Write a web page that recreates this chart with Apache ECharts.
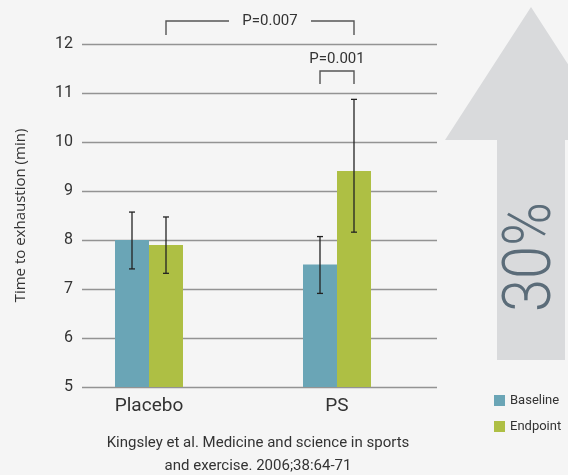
<!DOCTYPE html>
<html>
<head>
<meta charset="utf-8">
<script src="https://cdn.jsdelivr.net/npm/echarts@6/dist/echarts.min.js"></script>
<style>
html,body{margin:0;padding:0;background:#f5f5f5;}
#c{width:568px;height:475px;}
</style>
</head>
<body>
<div id="c"></div>
<script>
// ---- data ----
const categories = ['Placebo', 'PS'];
const seriesNames = ['Baseline', 'Endpoint'];
const baseline = [8.0, 7.5];
const endpoint = [7.9, 9.41];
const baselineLow = [7.41, 6.91];
const baselineHigh = [8.57, 8.07];
const endpointLow = [7.32, 8.16];
const endpointHigh = [8.47, 10.87];
const yTicks = [5, 6, 7, 8, 9, 10, 11, 12];
const pLabels = ['P=0.007', 'P=0.001'];
const pFromCat = [0, 1];
const pFromSeries = [1, 0];
const pToCat = [1, 1];
const pToSeries = [1, 1];
const pLevel = [12.47, 11.45];
const arrowLabel = '30%';
const caption = 'Kingsley et al. Medicine and science in sports\nand exercise. 2006;38:64-71';

const BAR_W = 34;
const colors = ['#6aa5b6', '#aebf44'];
const FONT = 'Roboto';

const chart = echarts.init(document.getElementById('c'));

function errSeries(idx, low, high) {
  return {
    type: 'custom',
    xAxisIndex: 1, yAxisIndex: 1,
    silent: true, z: 5,
    data: categories.map((c, i) => [i, low[i], high[i]]),
    renderItem: function (params, api) {
      const off = (idx === 0 ? -1 : 1) * BAR_W / 2;
      const pl = api.coord([api.value(0), api.value(1)]);
      const ph = api.coord([api.value(0), api.value(2)]);
      const x = pl[0] + off;
      const cap = 3;
      const st = { stroke: '#222', lineWidth: 1.3 };
      return {
        type: 'group',
        children: [
          { type: 'line', shape: { x1: x, y1: pl[1], x2: x, y2: ph[1] }, style: st },
          { type: 'line', shape: { x1: x - cap, y1: pl[1], x2: x + cap, y2: pl[1] }, style: st },
          { type: 'line', shape: { x1: x - cap, y1: ph[1], x2: x + cap, y2: ph[1] }, style: st }
        ]
      };
    }
  };
}

const bracketSeries = {
  type: 'custom',
  xAxisIndex: 1, yAxisIndex: 1,
  silent: true, clip: false, z: 6,
  data: pLabels.map((l, i) => [pFromCat[i], pFromSeries[i], pToCat[i], pToSeries[i], pLevel[i], i]),
  renderItem: function (params, api) {
    const i = api.value(5);
    const off = s => (s === 0 ? -1 : 1) * BAR_W / 2;
    const a = api.coord([api.value(0), api.value(4)]);
    const b = api.coord([api.value(2), api.value(4)]);
    const x1 = a[0] + off(api.value(1));
    const x2 = b[0] + off(api.value(3));
    const y = a[1];
    const drop = 14;
    const st = { stroke: '#555', lineWidth: 1.4, fill: null };
    const label = pLabels[i];
    const children = [];
    const ts = { fontSize: 15, fontFamily: FONT, fill: '#333', align: 'center', verticalAlign: 'middle' };
    if (i === 0) {
      const cx = (x1 + x2) / 2 + 10;
      const gap = 41;
      children.push({ type: 'polyline', shape: { points: [[x1, y + drop], [x1, y], [cx - gap, y]] }, style: st });
      children.push({ type: 'polyline', shape: { points: [[cx + gap, y], [x2, y], [x2, y + drop]] }, style: st });
      children.push({ type: 'text', style: Object.assign({ text: label, x: cx, y: y }, ts) });
    } else {
      const cx = (x1 + x2) / 2;
      children.push({ type: 'polyline', shape: { points: [[x1, y + 13], [x1, y], [x2, y], [x2, y + 13]] }, style: st });
      children.push({ type: 'text', style: Object.assign({ text: label, x: cx, y: y - 12 }, ts) });
    }
    return { type: 'group', children: children };
  }
};

const option = {
  backgroundColor: '#f5f5f5',
  animation: false,
  textStyle: { fontFamily: FONT },
  grid: [
    { left: 82, right: 131, top: 44, bottom: 88 },
    { left: 55, right: 137, top: 44, bottom: 88 }
  ],
  xAxis: [
    { gridIndex: 0, type: 'value', show: false, min: 0, max: 1 },
    {
      gridIndex: 1, type: 'category', data: categories,
      axisLine: { show: false }, axisTick: { show: false },
      axisLabel: { fontSize: 19, color: '#333', margin: 10, fontFamily: FONT }
    }
  ],
  yAxis: [
    {
      gridIndex: 0, type: 'value', min: yTicks[0], max: yTicks[yTicks.length - 1], interval: 1,
      axisLine: { show: false }, axisTick: { show: false },
      axisLabel: { fontSize: 16, color: '#333', margin: 9, fontFamily: FONT },
      splitLine: { lineStyle: { color: '#939393', width: 1.3 } },
      name: 'Time to exhaustion (min)', nameLocation: 'middle', nameGap: 54,
      nameTextStyle: { fontSize: 15, color: '#333', fontFamily: 'Open Sans' }
    },
    { gridIndex: 1, type: 'value', min: yTicks[0], max: yTicks[yTicks.length - 1], show: false, splitLine: { show: false } }
  ],
  legend: {
    orient: 'vertical', left: 489, top: 389,
    itemWidth: 11, itemHeight: 11, itemGap: 13,
    icon: 'rect',
    data: seriesNames,
    textStyle: { fontSize: 13, color: '#333', fontFamily: FONT, padding: [0, 0, 0, 0] }
  },
  series: [
    { name: seriesNames[0], type: 'bar', xAxisIndex: 1, yAxisIndex: 1, data: baseline, barWidth: BAR_W, barGap: '0%', itemStyle: { color: colors[0] }, silent: true },
    { name: seriesNames[1], type: 'bar', xAxisIndex: 1, yAxisIndex: 1, data: endpoint, barWidth: BAR_W, barGap: '0%', itemStyle: { color: colors[1] }, silent: true },
    errSeries(0, baselineLow, baselineHigh),
    errSeries(1, endpointLow, endpointHigh),
    bracketSeries
  ],
  graphic: [
    {
      type: 'polygon', z: -1, silent: true,
      shape: { points: [[445, 140], [531, 7], [617, 140], [565, 140], [565, 360], [497, 360], [497, 140]] },
      style: { fill: '#d9dadc' }
    },
    {
      type: 'text', silent: true, x: 533, y: 257, rotation: Math.PI / 2, scaleX: 0.9,
      style: { text: arrowLabel, align: 'center', verticalAlign: 'middle', fontSize: 66, fontWeight: 300, fontFamily: FONT, fill: '#5b6c79' }
    },
    {
      type: 'text', silent: true, x: 258, y: 432,
      style: { text: caption, align: 'center', verticalAlign: 'top', fontSize: 15, lineHeight: 23, fontFamily: FONT, fill: '#333' }
    }
  ]
};
chart.setOption(option);
</script>
</body>
</html>
